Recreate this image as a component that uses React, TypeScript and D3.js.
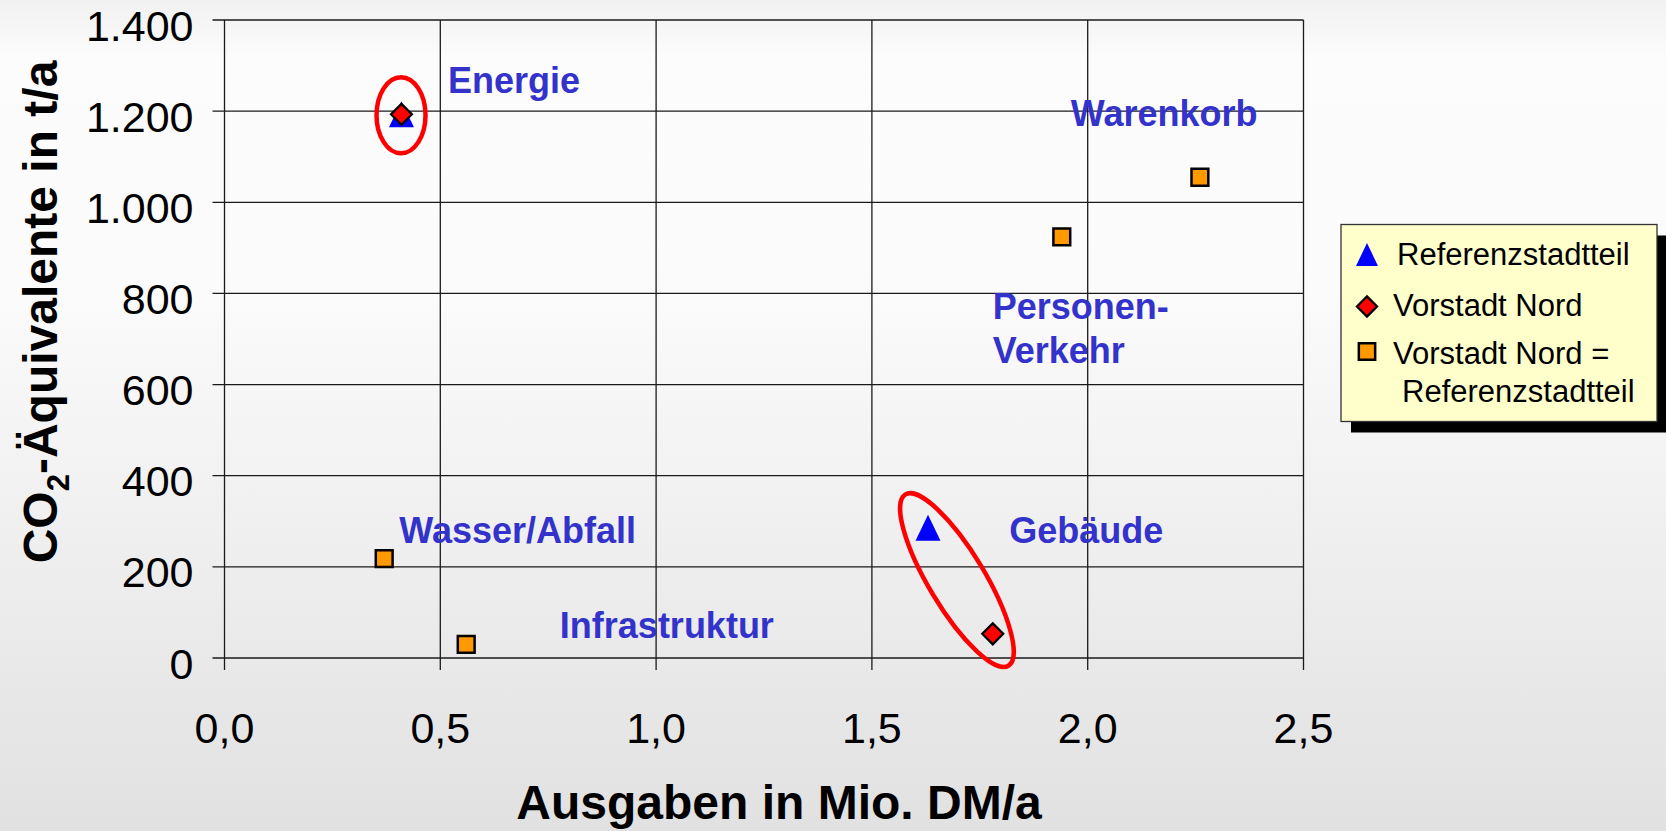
import React, { useEffect, useRef } from 'react';
import * as d3 from 'd3';

// values (x: Mio. DM/a, y: t/a)
const seriesNames = ['Referenzstadtteil', 'Vorstadt Nord', 'Vorstadt Nord =', 'Referenzstadtteil'];
const refX = [0.41, 1.63];
const refY = [1193, 286];
const nordX = [0.41, 1.78];
const nordY = [1193, 53];
const sameX = [0.37, 0.56, 1.94, 2.26];
const sameY = [218, 30, 924, 1055];

const xTicks = [0, 0.5, 1, 1.5, 2, 2.5];
const yTicks = [0, 200, 400, 600, 800, 1000, 1200, 1400];

const categories = ['Energie', 'Warenkorb', 'Personen-', 'Verkehr', 'Wasser/Abfall', 'Gebäude', 'Infrastruktur'];
const categoryX = [0.518, 1.961, 1.78, 1.78, 0.405, 1.818, 0.777];
const categoryY = [1239, 1168, 743, 648, 252, 253, 43];

const W = 1666;
const H = 831;
const margin = { top: 20, right: 362.5, bottom: 173, left: 224.5 };
const FONT = '"Liberation Sans", Arial, sans-serif';

const de = d3.formatLocale({ decimal: ',', thousands: '.', grouping: [3], currency: ['', ' DM'] });

const triangle = {
  draw(ctx: any, size: number) {
    const w = Math.sqrt(size) * 1.0;
    const h = w * 1.04;
    ctx.moveTo(0, -h / 2);
    ctx.lineTo(w / 2, h / 2);
    ctx.lineTo(-w / 2, h / 2);
    ctx.closePath();
  }
};

const App: React.FC = () => {
  const svgRef = useRef<SVGSVGElement>(null);

  useEffect(() => {
    if (!svgRef.current) return;
    const svg = d3.select(svgRef.current);
    svg.selectAll('*').remove();

    const defs = svg.append('defs');
    const grad = defs.append('linearGradient')
      .attr('id', 'bg')
      .attr('x1', 0).attr('y1', 0).attr('x2', 0).attr('y2', 1);
    grad.append('stop').attr('offset', '0').attr('stop-color', '#f1f1f1');
    grad.append('stop').attr('offset', '0.07').attr('stop-color', '#fcfcfc');
    grad.append('stop').attr('offset', '0.35').attr('stop-color', '#fbfbfb');
    grad.append('stop').attr('offset', '1').attr('stop-color', '#e1e1e1');

    svg.append('rect').attr('width', W).attr('height', H).attr('fill', 'url(#bg)');

    const x = d3.scaleLinear().domain([0, 2.5]).range([margin.left, W - margin.right]);
    const y = d3.scaleLinear().domain([0, 1400]).range([H - margin.bottom, margin.top]);

    // grid + ticks
    const grid = svg.append('g').attr('stroke', '#1a1a1a').attr('stroke-width', 1.3);
    yTicks.forEach(t => {
      grid.append('line')
        .attr('x1', x(0) - 12).attr('x2', x(2.5))
        .attr('y1', y(t)).attr('y2', y(t));
    });
    xTicks.forEach(t => {
      grid.append('line')
        .attr('x1', x(t)).attr('x2', x(t))
        .attr('y1', y(1400)).attr('y2', y(0) + 12);
    });

    // tick labels
    svg.append('g')
      .selectAll('text')
      .data(yTicks)
      .enter()
      .append('text')
      .attr('x', x(0) - 31)
      .attr('y', d => y(d) + 20.5)
      .attr('text-anchor', 'end')
      .attr('font-family', FONT)
      .attr('font-size', 43)
      .attr('fill', '#000')
      .text(d => de.format(',')(d));

    svg.append('g')
      .selectAll('text')
      .data(xTicks)
      .enter()
      .append('text')
      .attr('x', d => x(d))
      .attr('y', y(0) + 85)
      .attr('text-anchor', 'middle')
      .attr('font-family', FONT)
      .attr('font-size', 43)
      .attr('fill', '#000')
      .text(d => de.format('.1f')(d));

    // axis titles
    svg.append('text')
      .attr('x', 779)
      .attr('y', 819)
      .attr('text-anchor', 'middle')
      .attr('font-family', FONT)
      .attr('font-weight', 'bold')
      .attr('font-size', 48)
      .text('Ausgaben in Mio. DM/a');

    const yt = svg.append('text')
      .attr('transform', `translate(57,${312}) rotate(-90)`)
      .attr('text-anchor', 'middle')
      .attr('font-family', FONT)
      .attr('font-weight', 'bold')
      .attr('font-size', 48);
    yt.append('tspan').text('CO');
    yt.append('tspan').attr('font-size', 31).attr('dy', 12).text('2');
    yt.append('tspan').attr('dy', -12).text('-Äquivalente in t/a');

    // category labels
    svg.append('g')
      .selectAll('text')
      .data(categories)
      .enter()
      .append('text')
      .attr('x', (d, i) => x(categoryX[i]))
      .attr('y', (d, i) => y(categoryY[i]))
      .attr('font-family', FONT)
      .attr('font-weight', 'bold')
      .attr('font-size', 36)
      .attr('fill', '#3333cc')
      .text(d => d);

    // highlight ellipses
    svg.append('ellipse')
      .attr('cx', x(0.409)).attr('cy', y(1191))
      .attr('rx', 24.5).attr('ry', 38)
      .attr('fill', 'none').attr('stroke', '#ff0000').attr('stroke-width', 4.5);
    svg.append('ellipse')
      .attr('transform', `translate(${x(1.697)},${y(171)}) rotate(59)`)
      .attr('rx', 100).attr('ry', 28)
      .attr('fill', 'none').attr('stroke', '#ff0000').attr('stroke-width', 4.5);

    // points
    const tri = d3.symbol().type(triangle as any).size(625);
    const dia = d3.symbol().type(d3.symbolDiamond2).size(280);
    const sq = d3.symbol().type(d3.symbolSquare2).size(360);

    svg.append('g')
      .selectAll('path')
      .data(sameX)
      .enter()
      .append('path')
      .attr('d', sq)
      .attr('transform', (d, i) => `translate(${x(d)},${y(sameY[i])})`)
      .attr('fill', '#ff9900')
      .attr('stroke', '#000')
      .attr('stroke-width', 2.5);

    svg.append('g')
      .selectAll('path')
      .data(refX)
      .enter()
      .append('path')
      .attr('d', tri)
      .attr('transform', (d, i) => `translate(${x(d)},${y(refY[i])})`)
      .attr('fill', '#0000ff');

    svg.append('g')
      .selectAll('path')
      .data(nordX)
      .enter()
      .append('path')
      .attr('d', dia)
      .attr('transform', (d, i) => `translate(${x(d)},${y(nordY[i])})`)
      .attr('fill', '#ff0000')
      .attr('stroke', '#000')
      .attr('stroke-width', 2.2);

    // legend
    const lg = svg.append('g').attr('transform', 'translate(1341,224.5)');
    lg.append('rect').attr('x', 10).attr('y', 11).attr('width', 316).attr('height', 197).attr('fill', '#000');
    lg.append('rect').attr('width', 316).attr('height', 197)
      .attr('fill', '#ffffcc').attr('stroke', '#333').attr('stroke-width', 1.3);

    const sx = 26;
    lg.append('path').attr('d', tri.size(484)).attr('transform', `translate(${sx},30)`).attr('fill', '#0000ff');
    lg.append('path').attr('d', dia.size(260)).attr('transform', `translate(${sx},82)`)
      .attr('fill', '#ff0000').attr('stroke', '#000').attr('stroke-width', 2.2);
    lg.append('path').attr('d', sq.size(340)).attr('transform', `translate(${sx},127)`)
      .attr('fill', '#ff9900').attr('stroke', '#000').attr('stroke-width', 2.5);

    const textX = [56, 52, 52, 61];
    const textY = [40, 91.5, 139.5, 177];
    lg.selectAll('text.leg')
      .data(seriesNames)
      .enter()
      .append('text')
      .attr('class', 'leg')
      .attr('x', (d, i) => textX[i])
      .attr('y', (d, i) => textY[i])
      .attr('font-family', FONT)
      .attr('font-size', 31)
      .attr('fill', '#000')
      .text(d => d);
  }, []);

  return (
    <svg
      ref={svgRef}
      width={W}
      height={H}
      style={{ position: 'absolute', left: 0, top: 0 }}
    />
  );
};

export default App;
